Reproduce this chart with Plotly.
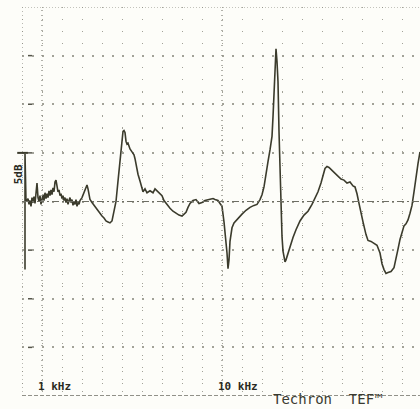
import plotly.graph_objects as go

# Frequency response sweep: frequency in kHz, level in dB relative to the reference line
freq_khz = [
    0.15, 0.15, 0.20, 0.30, 0.35, 0.40, 0.45, 0.50, 0.55, 0.60, 0.65, 0.70, 0.75, 0.80,
    0.85, 0.90, 0.95, 1.00, 1.05, 1.10, 1.15, 1.20, 1.25, 1.30, 1.35, 1.40, 1.45, 1.50,
    1.55, 1.60, 1.65, 1.70, 1.75, 1.80, 1.85, 1.90, 1.95, 2.00, 2.05, 2.10, 2.15, 2.20,
    2.25, 2.30, 2.35, 2.40, 2.45, 2.50, 2.55, 2.60, 2.65, 2.70, 2.75, 2.80, 2.85, 2.90,
    3.00, 3.10, 3.20, 3.25, 3.30, 3.35, 3.40, 3.50, 3.60, 3.70, 3.80, 3.90, 4.00, 4.10,
    4.20, 4.30, 4.40, 4.50, 4.60, 4.70, 4.80, 4.90, 5.00, 5.05, 5.10, 5.15, 5.20, 5.25,
    5.30, 5.40, 5.50, 5.60, 5.65, 5.70, 5.75, 5.80, 5.90, 6.00, 6.05, 6.15, 6.25, 6.40,
    6.55, 6.65, 6.75, 6.90, 7.00, 7.10, 7.20, 7.30, 7.40, 7.55, 7.70, 7.85, 8.00, 8.10,
    8.20, 8.30, 8.40, 8.55, 8.70, 8.85, 9.00, 9.15, 9.30, 9.45, 9.55, 9.65, 9.80, 9.90,
    10.00, 10.10, 10.20, 10.25, 10.30, 10.35, 10.40, 10.50, 10.60, 10.80, 11.00, 11.20,
    11.40, 11.60, 11.75, 11.90, 12.00, 12.10, 12.20, 12.30, 12.40, 12.50, 12.55, 12.60,
    12.65, 12.70, 12.75, 12.80, 12.85, 12.90, 12.95, 13.00, 13.05, 13.10, 13.15, 13.20,
    13.30, 13.40, 13.55, 13.70, 13.90, 14.10, 14.30, 14.50, 14.65, 14.80, 14.95, 15.05,
    15.15, 15.25, 15.35, 15.50, 15.65, 15.80, 15.95, 16.10, 16.25, 16.40, 16.55, 16.65,
    16.75, 16.85, 16.95, 17.05, 17.20, 17.30, 17.45, 17.60, 17.75, 17.90, 18.00, 18.10,
    18.20, 18.30, 18.45, 18.60, 18.70, 18.80, 18.90, 19.00, 19.10, 19.20, 19.30, 19.40,
    19.50, 19.60, 19.70, 19.80, 19.90,
]
level_db = [
    -7.0, 4.9, 0.0, 0.3, -0.3, 0.1, -0.5, 0.4, -0.1, 0.5, -0.2, 1.0, 1.9, 0.4,
    0.0, 0.6, -0.3, 0.2, 0.7, 0.1, 0.9, 0.3, 0.8, 0.4, 1.1, 0.6, 1.2, 0.7,
    1.4, 1.0, 2.0, 2.2, 1.4, 1.0, 1.2, 0.6, 0.8, 0.3, 0.6, 0.1, 0.4, -0.1,
    0.3, -0.3, 0.1, 0.4, -0.1, 0.2, -0.4, 0.0, -0.3, 0.2, -0.5, -0.1, -0.3, 0.1,
    0.4, 1.0, 1.6, 1.7, 1.3, 0.7, 0.2, -0.1, -0.4, -0.7, -0.9, -1.2, -1.5, -1.7,
    -2.0, -2.1, -2.2, -2.0, -1.0, 0.0, 2.1, 4.1, 6.4, 7.2, 7.3, 7.1, 6.2, 5.9,
    6.0, 5.4, 5.1, 4.8, 4.4, 3.8, 3.1, 2.8, 2.1, 1.4, 1.0, 1.3, 0.9, 1.1,
    0.9, 1.3, 1.1, 0.8, 0.6, 0.1, -0.2, -0.5, -0.7, -1.0, -1.2, -1.4, -1.5, -1.3,
    -1.1, -0.6, -0.2, 0.1, 0.2, -0.2, -0.1, 0.1, 0.2, 0.3, 0.3, 0.2, 0.1, -0.2,
    -0.5, -2.1, -3.9, -5.3, -6.9, -6.0, -4.1, -2.7, -2.2, -1.7, -1.3, -0.9,
    -0.6, -0.4, -0.3, 0.2, 0.7, 1.5, 2.6, 4.1, 5.3, 6.7, 8.7, 10.8,
    13.2, 15.7, 14.4, 12.3, 7.2, 2.6, -0.5, -3.6, -5.1, -5.9, -6.2, -6.0,
    -5.3, -4.7, -3.7, -2.9, -2.0, -1.4, -1.0, -0.3, 0.3, 1.0, 1.9, 2.8,
    3.4, 3.6, 3.5, 3.2, 2.9, 2.6, 2.3, 2.2, 1.9, 2.0, 1.6, 1.5,
    0.8, -0.2, -1.0, -2.1, -3.4, -4.0, -4.1, -4.3, -4.5, -5.3, -6.4, -7.0,
    -7.4, -7.3, -7.2, -6.8, -6.0, -4.9, -3.9, -3.1, -2.5, -2.3, -1.9, -1.2,
    -0.4, 1.0, 2.6, 3.9, 5.1,
]

# Axis settings
x_range = [0, 19.9]
y_range = [-20, 20]
major_db = [-15, -10, -5, 5, 10, 15]
marked_freqs = [1, 10]
freq_labels = ["1 kHz", "10 kHz"]
scale_label = "5dB"
brand_label = "Techron\u00a0\u00a0TEF\u2122"

ink = "#3b3b2c"
grid = "#a2a298"

fig = go.Figure()
fig.add_trace(go.Scatter(
    x=freq_khz, y=level_db, mode="lines",
    line=dict(color=ink, width=1.6),
    hoverinfo="skip", showlegend=False,
))

shapes = []
# Reference (0 dB) line, dash-dotted
shapes.append(dict(type="line", xref="paper", x0=0, x1=1, yref="y", y0=0, y1=0,
                   line=dict(color="#6e6e64", width=1.2, dash="7px,3px,2px,3px")))
# Top and bottom borders
shapes.append(dict(type="line", xref="paper", x0=0, x1=1, yref="y", y0=20, y1=20,
                   line=dict(color="#8a8a80", width=1.2, dash="1px,2px")))
shapes.append(dict(type="line", xref="paper", x0=0, x1=1, yref="y", y0=-20, y1=-20,
                   line=dict(color="#6e6e64", width=1.3, dash="4px,2px")))
# Left border
shapes.append(dict(type="line", xref="x", x0=0, x1=0, yref="paper", y0=0, y1=1,
                   line=dict(color="#8a8a80", width=1.2, dash="1px,3px")))
# Dense lines at the labelled frequencies
for f in marked_freqs:
    shapes.append(dict(type="line", xref="x", x0=f, x1=f, yref="paper", y0=0, y1=1,
                       line=dict(color="#8a8a80", width=1.3, dash="1px,4px")))
# Short ticks on the left edge at each major level
for v in major_db:
    shapes.append(dict(type="line", xref="x", x0=0.3, x1=0.5, yref="y", y0=v, y1=v,
                       line=dict(color="#55554a", width=1.5)))
# Scale bar cap
shapes.append(dict(type="line", xref="paper", x0=-0.012, x1=0.015, yref="y", y0=5, y1=5,
                   line=dict(color=ink, width=2)))

annotations = []
for f, lab in zip(marked_freqs, freq_labels):
    annotations.append(dict(
        x=f - 0.3, y=-19.0, xref="x", yref="y", text=f"<b>{lab}</b>", showarrow=False,
        xanchor="left", yanchor="middle",
        font=dict(family="DejaVu Sans Mono", size=11, color="#2a2a22"),
    ))
annotations.append(dict(
    x=15.3, y=0, xref="x", yref="paper", text=brand_label, showarrow=False,
    xanchor="center", yanchor="top", yshift=7,
    font=dict(family="DejaVu Sans Mono", size=14, color="#3a3a30"),
))
annotations.append(dict(
    x=0, y=2.8, xref="paper", yref="y", text=f"<b>{scale_label}</b>", showarrow=False,
    textangle=-90, xanchor="center", yanchor="middle", xshift=-4,
    font=dict(family="DejaVu Sans Mono", size=11, color="#2a2a22"),
))

fig.update_layout(
    width=420, height=409,
    margin=dict(l=22, r=0, t=7, b=13),
    paper_bgcolor="#fdfdf9", plot_bgcolor="#fdfdf9",
    shapes=shapes, annotations=annotations,
    xaxis=dict(range=x_range, dtick=1, tick0=0, showgrid=True, gridcolor=grid,
               gridwidth=1.4, griddash="1px,11px", zeroline=False, showline=False,
               showticklabels=False, ticks=""),
    yaxis=dict(range=y_range, dtick=5, tick0=0, showgrid=True, gridcolor=grid,
               gridwidth=1.5, griddash="2px,8px", zeroline=False, showline=False,
               showticklabels=False, ticks="",
               minor=dict(dtick=1.25, showgrid=True, gridcolor=grid, gridwidth=1.3,
                          griddash="1px,19px")),
)

fig.write_html("out.html")
